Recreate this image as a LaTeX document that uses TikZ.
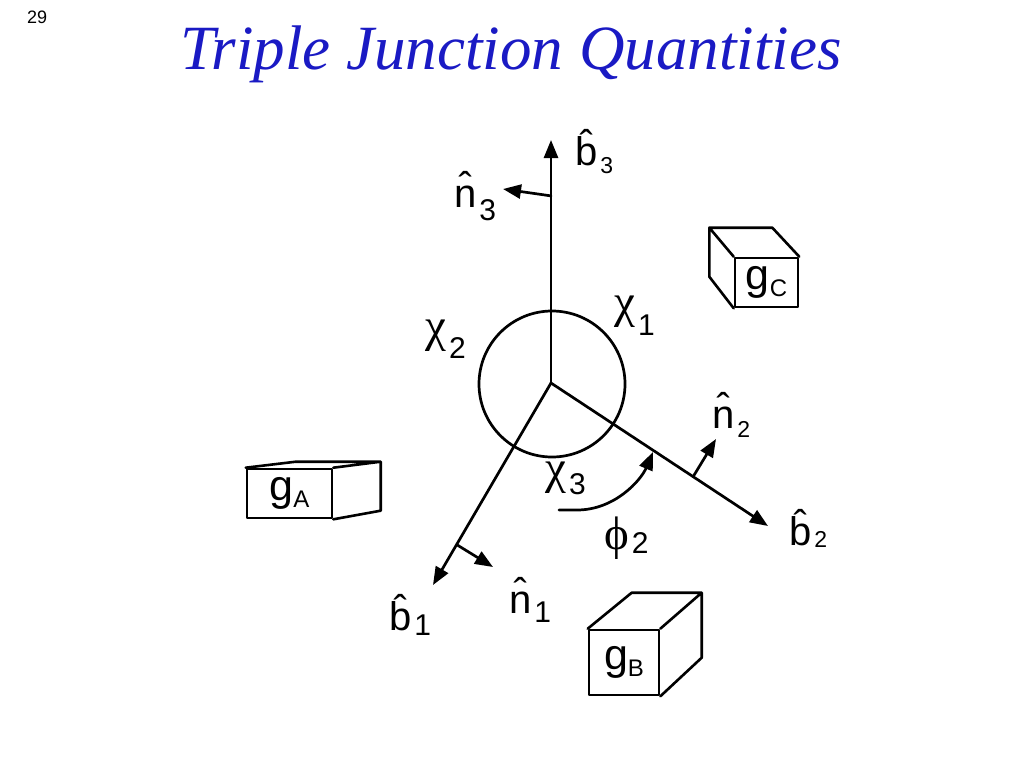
\documentclass[tikz,border=0pt]{standalone}
\usepackage{fontspec}
\setmainfont{Liberation Sans}
\newfontfamily\titlefont{Liberation Serif}
\newfontfamily\greekfont{Liberation Serif}
\usetikzlibrary{arrows.meta,calc}
\definecolor{titleblue}{RGB}{26,26,196}
\newcommand\ssub[2]{\hspace{3pt}\raisebox{-#1}{\fontsize{23}{23}\selectfont #2}}
\newcommand\bsub[2]{\hspace{3pt}\raisebox{-#1}{\fontsize{30}{30}\selectfont #2}}
\newcommand\gsub[1]{\raisebox{-7pt}{\fontsize{24}{24}\selectfont #1}}
\begin{document}
\begin{tikzpicture}[x=1pt,y=-1pt,line join=round,line cap=round,>={Triangle[length=18pt,width=14pt]},
  vec/.style={->,line width=2.7pt},
  lbl/.style={anchor=base west,inner sep=0pt,font=\fontsize{40}{40}\selectfont},
  grk/.style={lbl},
  grain/.style={draw,line width=2.6pt,inner sep=0pt,font=\fontsize{43}{43}\selectfont}]
\useasboundingbox (0,0) rectangle (1024,768);
\node[anchor=base west,inner sep=0pt,font=\fontsize{18}{18}\selectfont] (page) at (27,24) {29};
\node[anchor=base,inner sep=0pt,text=titleblue,font=\fontsize{63}{63}\selectfont\titlefont\itshape] (title) at (511,70) {Triple Junction Quantities};
\coordinate (O) at (551,383);
\coordinate (b3) at (551,140);
\coordinate (b2) at (768,526);
\coordinate (b1) at (433,585);
\coordinate (n3) at (503,189);
\coordinate (n2) at (716,439);
\coordinate (n1) at (493,567);
\coordinate (n3b) at ($(O)!0.77!(b3)$);
\coordinate (n2b) at ($(O)!0.655!(b2)$);
\coordinate (n1b) at ($(O)!0.8!(b1)$);
\draw[line width=2.7pt] (552,384) circle[radius=73];
\draw[vec] (O)--(b3);
\draw[vec] (O)--(b2);
\draw[vec] (O)--(b1);
\draw[vec] (n3b)--(n3);
\draw[vec] (n2b)--(n2);
\draw[vec] (n1b)--(n1);
\coordinate (p0) at (559,510);
\coordinate (p1) at (653,452);
\draw[vec] (p0)--(577,510) .. controls (615,510) and (641,480) .. (p1);
\node[lbl] (lb3) at (575,165) {\^{b}\ssub{8pt}{3}};
\node[lbl] (ln3) at (454,207) {\^{n}\bsub{13pt}{3}};
\node[lbl] (ln2) at (712,428) {\^{n}\ssub{9pt}{2}};
\node[lbl] (lb2) at (789,545) {\^{b}\ssub{2pt}{2}};
\node[lbl] (lb1) at (389,630) {\^{b}\bsub{5pt}{1}};
\node[lbl] (ln1) at (509,613) {\^{n}\bsub{9pt}{1}};
\node[grk] (chi1) at (614,317) {{\fontsize{47}{47}\selectfont\greekfont χ}\bsub{18pt}{1}};
\node[grk] (chi2) at (425,341) {{\fontsize{47}{47}\selectfont\greekfont χ}\bsub{17pt}{2}};
\node[grk] (chi3) at (545,483) {{\fontsize{47}{47}\selectfont\greekfont χ}\bsub{11pt}{3}};
\node[grk] (phi2) at (604,549) {{\fontsize{47}{47}\selectfont\greekfont ϕ}\bsub{4pt}{2}};
\node[grain,minimum width=85pt,minimum height=49pt] (gA) at (289.5,493.5) {g\gsub{A}};
\node[grain,minimum width=70pt,minimum height=65pt] (gB) at (624,662.5) {g\gsub{B}};
\node[grain,minimum width=63pt,minimum height=49pt] (gC) at (766.5,282.5) {g\gsub{C}};
\draw[line width=2.6pt] (gA.north west)--++(50,-6)--++(85,0) coordinate (gAt)--++(0,49)--(gA.south east) (gA.north east)--(gAt);
\draw[line width=2.6pt] (gB.north west)--++(44,-36)--++(70,0) coordinate (gBt)--++(0,65)--(gB.south east) (gB.north east)--(gBt);
\draw[line width=2.6pt] (gC.north east)--++(-27,-29)--++(-63,0) coordinate (gCt)--++(0,49)--(gC.south west) (gC.north west)--(gCt);
\end{tikzpicture}
\end{document}
